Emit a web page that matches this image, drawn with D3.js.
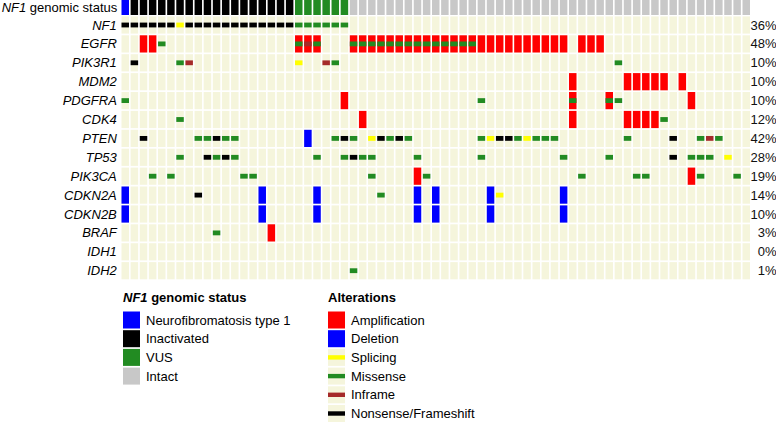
<!DOCTYPE html>
<html>
<head>
<meta charset="utf-8">
<script src="https://cdn.jsdelivr.net/npm/d3@7"></script>
<style>
  html, body { margin: 0; padding: 0; background: #ffffff; }
  svg { display: block; font-family: "Liberation Sans", Arial, sans-serif; }
</style>
</head>
<body>
<svg id="chart" width="776" height="423"></svg>
<script>
// ---------------- DATA ----------------
const genes = ["NF1","EGFR","PIK3R1","MDM2","PDGFRA","CDK4","PTEN","TP53","PIK3CA","CDKN2A","CDKN2B","BRAF","IDH1","IDH2"];
const pctLabels = ["36%","48%","10%","10%","10%","12%","42%","28%","19%","14%","10%","3%","0%","1%"];

// NF1 genomic status per sample (69 samples): N = Neurofibromatosis type 1, I = Inactivated, V = VUS, T = Intact
const nf1StatusCodes = ("N" + "IIIIIIIIIIIIIIIIII" + "VVVVVV" +
  "TTTTTTTTTTTTTTTTTTTTTTTTTTTTTTTTTTTTTTTTTTTT").split("");

const statusNames = ["Neurofibromatosis type 1","Inactivated","VUS","Intact"];
const statusKeys = ["N","I","V","T"];
const statusColors = ["#0000ff","#000000","#228b22","#c8c8c8"];

const alterationNames = ["Amplification","Deletion","Splicing","Missense","Inframe","Nonsense/Frameshift"];
const alterationKeys = ["amp","del","splice","missense","inframe","trunc"];
const alterationColors = ["#ff0000","#0000ff","#ffff00","#228b22","#a52a2a","#000000"];

// alterations per gene: [sample index, type]
const altNF1 = [[0,"trunc"],[1,"trunc"],[2,"trunc"],[3,"trunc"],[4,"trunc"],[5,"trunc"],[6,"splice"],[7,"trunc"],[8,"trunc"],[9,"trunc"],[10,"trunc"],[11,"trunc"],[12,"trunc"],[13,"trunc"],[14,"trunc"],[15,"trunc"],[16,"trunc"],[17,"trunc"],[18,"trunc"],
  [19,"missense"],[20,"missense"],[21,"missense"],[22,"missense"],[23,"missense"],[24,"missense"]];
const altEGFR = [[2,"amp"],[3,"amp"],[4,"missense"],
  [19,"amp"],[19,"missense"],[20,"amp"],[20,"inframe"],[21,"amp"],[21,"missense"],
  [25,"amp"],[25,"missense"],[26,"amp"],[26,"missense"],[27,"amp"],[27,"missense"],[28,"amp"],[28,"missense"],
  [29,"amp"],[29,"missense"],[30,"amp"],[30,"missense"],[31,"amp"],[31,"missense"],[32,"amp"],[32,"missense"],
  [33,"amp"],[33,"missense"],[34,"amp"],[34,"missense"],[35,"amp"],[35,"missense"],[36,"amp"],[36,"missense"],
  [37,"amp"],[37,"missense"],[38,"amp"],[38,"missense"],
  [39,"amp"],[40,"amp"],[41,"amp"],[42,"amp"],[43,"amp"],[44,"amp"],[45,"amp"],[46,"amp"],[47,"amp"],[48,"amp"],
  [50,"amp"],[51,"amp"],[52,"amp"]];
const altPIK3R1 = [[1,"trunc"],[6,"missense"],[7,"inframe"],[19,"splice"],[22,"inframe"],[23,"missense"],[54,"missense"]];
const altMDM2 = [[49,"amp"],[55,"amp"],[56,"amp"],[57,"amp"],[58,"amp"],[59,"amp"],[61,"amp"]];
const altPDGFRA = [[0,"missense"],[24,"amp"],[39,"missense"],[49,"amp"],[49,"missense"],[53,"amp"],[53,"missense"],[54,"missense"],[62,"amp"]];
const altCDK4 = [[6,"missense"],[26,"amp"],[49,"amp"],[55,"amp"],[56,"amp"],[57,"amp"],[58,"amp"],[59,"missense"]];
const altPTEN = [[2,"trunc"],[8,"missense"],[9,"missense"],[10,"trunc"],[11,"missense"],[12,"missense"],
  [20,"del"],[23,"missense"],[24,"trunc"],[25,"missense"],[27,"splice"],[28,"trunc"],[29,"missense"],[30,"trunc"],[31,"missense"],
  [39,"missense"],[40,"splice"],[41,"trunc"],[42,"trunc"],[43,"missense"],[44,"splice"],[45,"missense"],[46,"missense"],[47,"missense"],
  [55,"missense"],[60,"trunc"],[63,"missense"],[64,"inframe"],[65,"missense"]];
const altTP53 = [[6,"missense"],[9,"trunc"],[10,"missense"],[11,"trunc"],[12,"missense"],[21,"missense"],[24,"missense"],
  [25,"trunc"],[26,"missense"],[27,"missense"],[32,"missense"],[39,"missense"],[48,"missense"],[53,"missense"],
  [60,"trunc"],[62,"missense"],[63,"missense"],[64,"missense"],[66,"splice"]];
const altPIK3CA = [[3,"missense"],[5,"missense"],[13,"missense"],[14,"missense"],[27,"missense"],[32,"amp"],[33,"missense"],
  [50,"missense"],[56,"missense"],[57,"missense"],[62,"amp"],[63,"missense"],[67,"missense"]];
const altCDKN2A = [[0,"del"],[8,"trunc"],[15,"del"],[21,"del"],[28,"missense"],[32,"del"],[34,"del"],[40,"del"],[41,"splice"],[48,"del"]];
const altCDKN2B = [[0,"del"],[15,"del"],[21,"del"],[32,"del"],[34,"del"],[40,"del"],[48,"del"]];
const altBRAF = [[10,"missense"],[16,"amp"]];
const altIDH1 = [];
const altIDH2 = [[25,"missense"]];

const alterationLists = [altNF1, altEGFR, altPIK3R1, altMDM2, altPDGFRA, altCDK4, altPTEN, altTP53, altPIK3CA, altCDKN2A, altCDKN2B, altBRAF, altIDH1, altIDH2];

// ---------------- DRAWING ----------------
const svg = d3.select("#chart");
const FONT = 13;
const BEIGE = "#f5f5dc";

const samples = nf1StatusCodes.map((_, i) => i);
const x = d3.scaleBand().domain(samples).range([121.5, 750]).paddingInner(0.18).paddingOuter(0);
const y = d3.scaleBand().domain(genes).range([16.4, 279.3]).paddingInner(0.09).paddingOuter(0);
const statusColor = d3.scaleOrdinal().domain(statusKeys).range(statusColors);
const altColor = d3.scaleOrdinal().domain(alterationKeys).range(alterationColors);

const statusTop = 0, statusH = 15;

// status row
svg.append("g").selectAll("rect").data(nf1StatusCodes).join("rect")
  .attr("x", (d, i) => x(i)).attr("y", statusTop)
  .attr("width", x.bandwidth()).attr("height", statusH)
  .attr("fill", d => statusColor(d));

// backgrounds
const bgG = svg.append("g");
genes.forEach(g => {
  bgG.selectAll(null).data(samples).join("rect")
    .attr("x", i => x(i)).attr("y", y(g))
    .attr("width", x.bandwidth()).attr("height", y.bandwidth())
    .attr("fill", BEIGE);
});

// alterations
const bh = y.bandwidth();
const mutH = bh * 0.28;
const fullTypes = new Set(["amp","del"]);
const altG = svg.append("g");
genes.forEach((g, gi) => {
  const list = alterationLists[gi];
  // full-height first, then mutations on top
  const ordered = list.filter(d => fullTypes.has(d[1])).concat(list.filter(d => !fullTypes.has(d[1])));
  altG.selectAll(null).data(ordered).join("rect")
    .attr("x", d => x(d[0]))
    .attr("y", d => fullTypes.has(d[1]) ? y(g) : y(g) + (bh - mutH) / 2)
    .attr("width", x.bandwidth())
    .attr("height", d => fullTypes.has(d[1]) ? bh : mutH)
    .attr("fill", d => altColor(d[1]));
});

// row labels
const labelX = 116.8;
const st = svg.append("text").attr("x", labelX + 0.5).attr("y", statusTop + statusH / 2).attr("dy", "0.35em")
  .attr("text-anchor", "end").attr("font-size", FONT).attr("fill", "#000");
st.append("tspan").attr("font-style", "italic").text("NF1");
st.append("tspan").text(" genomic status");

svg.append("g").selectAll("text").data(genes).join("text")
  .attr("x", labelX).attr("y", d => y(d) + bh / 2).attr("dy", "0.35em")
  .attr("text-anchor", "end").attr("font-size", FONT).attr("font-style", "italic")
  .text(d => d);

// percentages
svg.append("g").selectAll("text").data(pctLabels).join("text")
  .attr("x", 776.5).attr("y", (d, i) => y(genes[i]) + bh / 2).attr("dy", "0.35em")
  .attr("text-anchor", "end").attr("font-size", FONT).attr("fill", "#111")
  .text(d => d);

// ---------------- LEGENDS ----------------
const legTitleY = 301.5;
const legRow0 = 320, legStep = 18.7, sq = 17;

// NF1 genomic status legend
const l1x = 123;
const t1 = svg.append("text").attr("x", l1x).attr("y", legTitleY).attr("font-size", FONT).attr("font-weight", "bold");
t1.append("tspan").attr("font-style", "italic").text("NF1");
t1.append("tspan").text(" genomic status");
const l1 = svg.append("g").selectAll("g").data(statusNames).join("g")
  .attr("transform", (d, i) => `translate(${l1x},${legRow0 + i * legStep})`);
l1.append("rect").attr("x", 0).attr("y", -sq / 2).attr("width", sq).attr("height", sq)
  .attr("fill", (d, i) => statusColors[i]);
l1.append("text").attr("x", 23).attr("dy", "0.35em").attr("font-size", FONT).text(d => d);

// Alterations legend
const l2x = 328;
svg.append("text").attr("x", l2x).attr("y", legTitleY).attr("font-size", FONT).attr("font-weight", "bold").text("Alterations");
const l2 = svg.append("g").selectAll("g").data(alterationNames).join("g")
  .attr("transform", (d, i) => `translate(${l2x},${legRow0 + i * legStep})`);
l2.append("rect").attr("x", 0).attr("y", -sq / 2).attr("width", sq).attr("height", sq)
  .attr("fill", (d, i) => fullTypes.has(alterationKeys[i]) ? alterationColors[i] : BEIGE);
l2.filter((d, i) => !fullTypes.has(alterationKeys[i])).append("rect")
  .attr("x", 0).attr("y", -2.2).attr("width", sq).attr("height", 4.4)
  .attr("fill", d => alterationColors[alterationNames.indexOf(d)]);
l2.append("text").attr("x", 23).attr("dy", "0.35em").attr("font-size", FONT).text(d => d);
</script>
</body>
</html>
